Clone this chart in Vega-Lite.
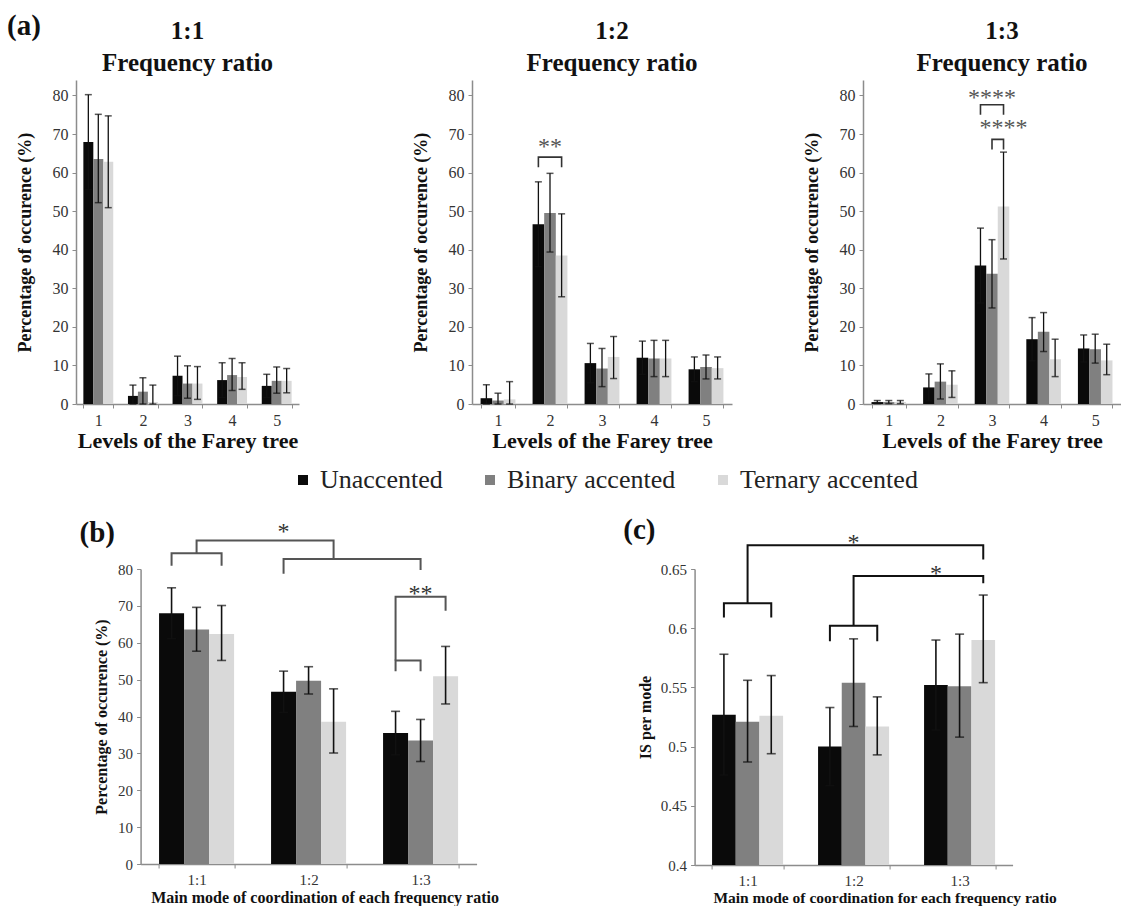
{
  "$schema": "https://vega.github.io/schema/vega-lite/v6.json",
  "background": "white",
  "padding": {"left": 7, "top": 12, "right": 0, "bottom": 0},
  "title": {"text": "(a)", "anchor": "start", "frame": "bounds", "fontSize": 29, "offset": -22, "dx": -9},
  "center": true,
  "spacing": 65,
  "resolve": {"scale": {"xOffset": "independent"}},
  "datasets": {
    "a": [
      {"ratio":"1:1","cat":"1","cond":"Unaccented","mean":67.9,"lo":55.6,"hi":80.2},
      {"ratio":"1:1","cat":"1","cond":"Binary accented","mean":63.5,"lo":52.2,"hi":75.1},
      {"ratio":"1:1","cat":"1","cond":"Ternary accented","mean":62.8,"lo":50.9,"hi":74.7},
      {"ratio":"1:1","cat":"2","cond":"Unaccented","mean":2.1,"lo":0,"hi":4.9},
      {"ratio":"1:1","cat":"2","cond":"Binary accented","mean":3.2,"lo":0,"hi":6.8},
      {"ratio":"1:1","cat":"2","cond":"Ternary accented","mean":0.5,"lo":0,"hi":4.9},
      {"ratio":"1:1","cat":"3","cond":"Unaccented","mean":7.3,"lo":2.2,"hi":12.4},
      {"ratio":"1:1","cat":"3","cond":"Binary accented","mean":5.3,"lo":1.5,"hi":9.9},
      {"ratio":"1:1","cat":"3","cond":"Ternary accented","mean":5.3,"lo":1.2,"hi":9.7},
      {"ratio":"1:1","cat":"4","cond":"Unaccented","mean":6.2,"lo":1.7,"hi":10.7},
      {"ratio":"1:1","cat":"4","cond":"Binary accented","mean":7.5,"lo":3.5,"hi":11.8},
      {"ratio":"1:1","cat":"4","cond":"Ternary accented","mean":7.0,"lo":3.8,"hi":10.7},
      {"ratio":"1:1","cat":"5","cond":"Unaccented","mean":4.7,"lo":1.7,"hi":7.7},
      {"ratio":"1:1","cat":"5","cond":"Binary accented","mean":6.0,"lo":2.8,"hi":9.6},
      {"ratio":"1:1","cat":"5","cond":"Ternary accented","mean":6.0,"lo":2.9,"hi":9.2},
      {"ratio":"1:2","cat":"1","cond":"Unaccented","mean":1.5,"lo":0,"hi":5.0},
      {"ratio":"1:2","cat":"1","cond":"Binary accented","mean":0.9,"lo":0,"hi":2.8},
      {"ratio":"1:2","cat":"1","cond":"Ternary accented","mean":1.2,"lo":0,"hi":5.8},
      {"ratio":"1:2","cat":"2","cond":"Unaccented","mean":46.6,"lo":35.6,"hi":57.6},
      {"ratio":"1:2","cat":"2","cond":"Binary accented","mean":49.5,"lo":39.4,"hi":59.8},
      {"ratio":"1:2","cat":"2","cond":"Ternary accented","mean":38.5,"lo":27.8,"hi":49.3},
      {"ratio":"1:2","cat":"3","cond":"Unaccented","mean":10.6,"lo":5.5,"hi":15.7},
      {"ratio":"1:2","cat":"3","cond":"Binary accented","mean":9.2,"lo":4.5,"hi":14.4},
      {"ratio":"1:2","cat":"3","cond":"Ternary accented","mean":12.2,"lo":6.6,"hi":17.5},
      {"ratio":"1:2","cat":"4","cond":"Unaccented","mean":12.0,"lo":7.7,"hi":16.3},
      {"ratio":"1:2","cat":"4","cond":"Binary accented","mean":11.8,"lo":7.1,"hi":16.5},
      {"ratio":"1:2","cat":"4","cond":"Ternary accented","mean":11.8,"lo":7.1,"hi":16.5},
      {"ratio":"1:2","cat":"5","cond":"Unaccented","mean":9.0,"lo":5.8,"hi":12.2},
      {"ratio":"1:2","cat":"5","cond":"Binary accented","mean":9.6,"lo":6.5,"hi":12.7},
      {"ratio":"1:2","cat":"5","cond":"Ternary accented","mean":9.3,"lo":6.5,"hi":12.2},
      {"ratio":"1:3","cat":"1","cond":"Unaccented","mean":0.5,"lo":0.1,"hi":0.9},
      {"ratio":"1:3","cat":"1","cond":"Binary accented","mean":0.5,"lo":0.1,"hi":0.9},
      {"ratio":"1:3","cat":"1","cond":"Ternary accented","mean":0.5,"lo":0.1,"hi":0.9},
      {"ratio":"1:3","cat":"2","cond":"Unaccented","mean":4.3,"lo":0.8,"hi":7.8},
      {"ratio":"1:3","cat":"2","cond":"Binary accented","mean":5.8,"lo":1.3,"hi":10.4},
      {"ratio":"1:3","cat":"2","cond":"Ternary accented","mean":5.0,"lo":1.7,"hi":8.6},
      {"ratio":"1:3","cat":"3","cond":"Unaccented","mean":35.9,"lo":26.2,"hi":45.6},
      {"ratio":"1:3","cat":"3","cond":"Binary accented","mean":33.8,"lo":24.9,"hi":42.6},
      {"ratio":"1:3","cat":"3","cond":"Ternary accented","mean":51.2,"lo":37.6,"hi":65.3},
      {"ratio":"1:3","cat":"4","cond":"Unaccented","mean":16.8,"lo":11.2,"hi":22.4},
      {"ratio":"1:3","cat":"4","cond":"Binary accented","mean":18.7,"lo":13.6,"hi":23.7},
      {"ratio":"1:3","cat":"4","cond":"Ternary accented","mean":11.6,"lo":7.1,"hi":16.8},
      {"ratio":"1:3","cat":"5","cond":"Unaccented","mean":14.4,"lo":10.9,"hi":17.9},
      {"ratio":"1:3","cat":"5","cond":"Binary accented","mean":14.2,"lo":10.6,"hi":18.1},
      {"ratio":"1:3","cat":"5","cond":"Ternary accented","mean":11.3,"lo":7.6,"hi":15.5}
    ],
    "b": [
      {"cat":"1:1","cond":"Unaccented","mean":68.0,"lo":61.1,"hi":74.9},
      {"cat":"1:1","cond":"Binary accented","mean":63.6,"lo":57.7,"hi":69.6},
      {"cat":"1:1","cond":"Ternary accented","mean":62.4,"lo":55.2,"hi":70.1},
      {"cat":"1:2","cond":"Unaccented","mean":46.7,"lo":41.1,"hi":52.3},
      {"cat":"1:2","cond":"Binary accented","mean":49.7,"lo":46.1,"hi":53.5},
      {"cat":"1:2","cond":"Ternary accented","mean":38.6,"lo":30.1,"hi":47.5},
      {"cat":"1:3","cond":"Unaccented","mean":35.5,"lo":29.6,"hi":41.4},
      {"cat":"1:3","cond":"Binary accented","mean":33.5,"lo":27.8,"hi":39.2},
      {"cat":"1:3","cond":"Ternary accented","mean":50.9,"lo":43.4,"hi":59.0}
    ],
    "c": [
      {"cat":"1:1","cond":"Unaccented","mean":0.527,"lo":0.476,"hi":0.578},
      {"cat":"1:1","cond":"Binary accented","mean":0.521,"lo":0.487,"hi":0.556},
      {"cat":"1:1","cond":"Ternary accented","mean":0.526,"lo":0.494,"hi":0.560},
      {"cat":"1:2","cond":"Unaccented","mean":0.500,"lo":0.467,"hi":0.533},
      {"cat":"1:2","cond":"Binary accented","mean":0.554,"lo":0.517,"hi":0.591},
      {"cat":"1:2","cond":"Ternary accented","mean":0.517,"lo":0.493,"hi":0.542},
      {"cat":"1:3","cond":"Unaccented","mean":0.552,"lo":0.514,"hi":0.590},
      {"cat":"1:3","cond":"Binary accented","mean":0.551,"lo":0.508,"hi":0.595},
      {"cat":"1:3","cond":"Ternary accented","mean":0.590,"lo":0.554,"hi":0.628}
    ],
    "brk": [
      {"panel":"1:2","id":"s1","ord":1,"cat":"2","cond":"Unaccented","y":61.4},
      {"panel":"1:2","id":"s1","ord":2,"cat":"2","cond":"Unaccented","y":64.0},
      {"panel":"1:2","id":"s1","ord":3,"cat":"2","cond":"Ternary accented","y":64.0},
      {"panel":"1:2","id":"s1","ord":4,"cat":"2","cond":"Ternary accented","y":61.4},
      {"panel":"1:3","id":"t1","ord":1,"cat":"3","cond":"Unaccented","y":75.0},
      {"panel":"1:3","id":"t1","ord":2,"cat":"3","cond":"Unaccented","y":77.6},
      {"panel":"1:3","id":"t1","ord":3,"cat":"3","cond":"Ternary accented","y":77.6},
      {"panel":"1:3","id":"t1","ord":4,"cat":"3","cond":"Ternary accented","y":75.0},
      {"panel":"1:3","id":"t2","ord":1,"cat":"3","cond":"Binary accented","y":66.0},
      {"panel":"1:3","id":"t2","ord":2,"cat":"3","cond":"Binary accented","y":68.6},
      {"panel":"1:3","id":"t2","ord":3,"cat":"3","cond":"Ternary accented","y":68.6},
      {"panel":"1:3","id":"t2","ord":4,"cat":"3","cond":"Ternary accented","y":66.0},
      {"panel":"b","id":"b1","ord":1,"cat":"1:1","cond":"Unaccented","y":80.9},
      {"panel":"b","id":"b1","ord":2,"cat":"1:1","cond":"Unaccented","y":84.3},
      {"panel":"b","id":"b1","ord":3,"cat":"1:1","cond":"Ternary accented","y":84.3},
      {"panel":"b","id":"b1","ord":4,"cat":"1:1","cond":"Ternary accented","y":80.9},
      {"panel":"b","id":"b2","ord":1,"cat":"1:2","cond":"Unaccented","y":78.7},
      {"panel":"b","id":"b2","ord":2,"cat":"1:2","cond":"Unaccented","y":82.7},
      {"panel":"b","id":"b2","ord":3,"cat":"1:3","cond":"Binary accented","y":82.7},
      {"panel":"b","id":"b2","ord":4,"cat":"1:3","cond":"Binary accented","y":79.7},
      {"panel":"b","id":"b3","ord":1,"cat":"1:1","cond":"Binary accented","y":84.3},
      {"panel":"b","id":"b3","ord":2,"cat":"1:1","cond":"Binary accented","y":87.7},
      {"panel":"b","id":"b3","ord":3,"cat":"1:2","cond":"Ternary accented","y":87.7},
      {"panel":"b","id":"b3","ord":4,"cat":"1:2","cond":"Ternary accented","y":82.7},
      {"panel":"b","id":"b4","ord":1,"cat":"1:3","cond":"Unaccented","y":52.3},
      {"panel":"b","id":"b4","ord":2,"cat":"1:3","cond":"Unaccented","y":55.2},
      {"panel":"b","id":"b4","ord":3,"cat":"1:3","cond":"Binary accented","y":55.2},
      {"panel":"b","id":"b4","ord":4,"cat":"1:3","cond":"Binary accented","y":52.3},
      {"panel":"b","id":"b5","ord":1,"cat":"1:3","cond":"Unaccented","y":55.2},
      {"panel":"b","id":"b5","ord":2,"cat":"1:3","cond":"Unaccented","y":72.5},
      {"panel":"b","id":"b5","ord":3,"cat":"1:3","cond":"Ternary accented","y":72.5},
      {"panel":"b","id":"b5","ord":4,"cat":"1:3","cond":"Ternary accented","y":68.7},
      {"panel":"c","id":"c1","ord":1,"cat":"1:1","cond":"Unaccented","y":0.609},
      {"panel":"c","id":"c1","ord":2,"cat":"1:1","cond":"Unaccented","y":0.621},
      {"panel":"c","id":"c1","ord":3,"cat":"1:1","cond":"Ternary accented","y":0.621},
      {"panel":"c","id":"c1","ord":4,"cat":"1:1","cond":"Ternary accented","y":0.609},
      {"panel":"c","id":"c2","ord":1,"cat":"1:2","cond":"Unaccented","y":0.589},
      {"panel":"c","id":"c2","ord":2,"cat":"1:2","cond":"Unaccented","y":0.602},
      {"panel":"c","id":"c2","ord":3,"cat":"1:2","cond":"Ternary accented","y":0.602},
      {"panel":"c","id":"c2","ord":4,"cat":"1:2","cond":"Ternary accented","y":0.589},
      {"panel":"c","id":"c3","ord":1,"cat":"1:1","cond":"Binary accented","y":0.621},
      {"panel":"c","id":"c3","ord":2,"cat":"1:1","cond":"Binary accented","y":0.670},
      {"panel":"c","id":"c3","ord":3,"cat":"1:3","cond":"Ternary accented","y":0.670},
      {"panel":"c","id":"c3","ord":4,"cat":"1:3","cond":"Ternary accented","y":0.658},
      {"panel":"c","id":"c4","ord":1,"cat":"1:2","cond":"Binary accented","y":0.602},
      {"panel":"c","id":"c4","ord":2,"cat":"1:2","cond":"Binary accented","y":0.644},
      {"panel":"c","id":"c4","ord":3,"cat":"1:3","cond":"Ternary accented","y":0.644},
      {"panel":"c","id":"c4","ord":4,"cat":"1:3","cond":"Ternary accented","y":0.638}
    ],
    "stars": [
      {"panel":"1:2","cat":"2","cond":"Binary accented","y":67.0,"label":"**"},
      {"panel":"1:3","cat":"3","cond":"Binary accented","y":79.7,"label":"****"},
      {"panel":"1:3","cat":"3","cond":"Ternary accented","y":71.8,"label":"****"},
      {"panel":"b","cat":"1:2","cond":"Unaccented","y":91.3,"label":"*"},
      {"panel":"b","cat":"1:3","cond":"Binary accented","y":74.6,"label":"**"},
      {"panel":"c","cat":"1:2","cond":"Binary accented","y":0.676,"label":"*"},
      {"panel":"c","cat":"1:3","cond":"Unaccented","y":0.650,"label":"*"}
    ]
  },
  "vconcat": [
    {
      "resolve": {"scale": {"xOffset": "independent"}},
      "hconcat": [
        {
          "resolve": {"scale": {"xOffset": "independent"}},
          "hconcat": [
            {
              "width": 223, "height": 324,
              "title": {"text": ["1:1", "Frequency ratio"], "fontSize": 25, "lineHeight": 32, "offset": 4},
              "encoding": {
                "x": {"field": "cat", "type": "ordinal", "scale": {"domain": ["1","2","3","4","5"], "paddingInner": 0.33, "paddingOuter": 0.165}, "axis": {"title": "Levels of the Farey tree", "titleFontSize": 22, "labelFontSize": 16, "titlePadding": 2}},
                "xOffset": {"field": "cond", "type": "nominal", "scale": {"domain": ["Unaccented","Binary accented","Ternary accented"]}}
              },
              "layer": [
                {"data": {"name": "a"}, "transform": [{"filter": "datum.ratio == '1:1'"}], "mark": {"type": "bar"},
                 "encoding": {"y": {"field": "mean", "type": "quantitative", "title": "Percentage of occurence (%)", "scale": {"domain": [0, 84], "nice": false}, "axis": {"values": [0,10,20,30,40,50,60,70,80], "titleFontSize": 18, "labelFontSize": 16, "titlePadding": 18}},
                   "color": {"field": "cond", "type": "nominal", "scale": {"domain": ["Unaccented","Binary accented","Ternary accented"], "range": ["#0a0a0a","#808080","#d9d9d9"]}, "legend": {"orient": "none", "legendX": 214, "legendY": 387, "direction": "horizontal", "title": null, "symbolType": "square", "symbolSize": 100, "symbolStrokeWidth": 0, "labelFont": "Liberation Serif", "labelFontSize": 26, "labelLimit": 400, "labelColor": "#222", "columnPadding": 34, "labelOffset": 4}}}},
                {"data": {"name": "a"}, "transform": [{"filter": "datum.ratio == '1:1'"}], "mark": {"type": "rule", "color": "#111", "strokeWidth": 1.3},
                 "encoding": {"y": {"field": "lo", "type": "quantitative", "title": "Percentage of occurence (%)"}, "y2": {"field": "hi"}}},
                {"data": {"name": "a"}, "transform": [{"filter": "datum.ratio == '1:1'"}], "mark": {"type": "tick", "orient": "horizontal", "color": "#111", "size": 7, "thickness": 1.5},
                 "encoding": {"y": {"field": "hi", "type": "quantitative", "title": "Percentage of occurence (%)"}}},
                {"data": {"name": "a"}, "transform": [{"filter": "datum.ratio == '1:1'"}], "mark": {"type": "tick", "orient": "horizontal", "color": "#111", "size": 7, "thickness": 1.5},
                 "encoding": {"y": {"field": "lo", "type": "quantitative", "title": "Percentage of occurence (%)"}}}
              ]
            },
            {
              "width": 260, "height": 324,
              "title": {"text": ["1:2", "Frequency ratio"], "fontSize": 25, "lineHeight": 32, "offset": 4, "dx": 10},
              "encoding": {
                "x": {"field": "cat", "type": "ordinal", "scale": {"domain": ["1","2","3","4","5"], "paddingInner": 0.33, "paddingOuter": 0.165}, "axis": {"title": "Levels of the Farey tree", "titleFontSize": 22, "labelFontSize": 16, "titlePadding": 2}},
                "xOffset": {"field": "cond", "type": "nominal", "scale": {"domain": ["Unaccented","Binary accented","Ternary accented"]}}
              },
              "layer": [
                {"data": {"name": "a"}, "transform": [{"filter": "datum.ratio == '1:2'"}], "mark": {"type": "bar"},
                 "encoding": {"y": {"field": "mean", "type": "quantitative", "title": "Percentage of occurence (%)", "scale": {"domain": [0, 84], "nice": false}, "axis": {"values": [0,10,20,30,40,50,60,70,80], "titleFontSize": 18, "labelFontSize": 16, "titlePadding": 18}},
                   "color": {"field": "cond", "type": "nominal", "scale": {"domain": ["Unaccented","Binary accented","Ternary accented"], "range": ["#0a0a0a","#808080","#d9d9d9"]}, "legend": {"orient": "none", "legendX": 214, "legendY": 387, "direction": "horizontal", "title": null, "symbolType": "square", "symbolSize": 100, "symbolStrokeWidth": 0, "labelFont": "Liberation Serif", "labelFontSize": 26, "labelLimit": 400, "labelColor": "#222", "columnPadding": 34, "labelOffset": 4}}}},
                {"data": {"name": "a"}, "transform": [{"filter": "datum.ratio == '1:2'"}], "mark": {"type": "rule", "color": "#111", "strokeWidth": 1.3},
                 "encoding": {"y": {"field": "lo", "type": "quantitative", "title": "Percentage of occurence (%)"}, "y2": {"field": "hi"}}},
                {"data": {"name": "a"}, "transform": [{"filter": "datum.ratio == '1:2'"}], "mark": {"type": "tick", "orient": "horizontal", "color": "#111", "size": 7, "thickness": 1.5},
                 "encoding": {"y": {"field": "hi", "type": "quantitative", "title": "Percentage of occurence (%)"}}},
                {"data": {"name": "a"}, "transform": [{"filter": "datum.ratio == '1:2'"}], "mark": {"type": "tick", "orient": "horizontal", "color": "#111", "size": 7, "thickness": 1.5},
                 "encoding": {"y": {"field": "lo", "type": "quantitative", "title": "Percentage of occurence (%)"}}},
                {"data": {"name": "brk"}, "transform": [{"filter": "datum.panel == '1:2'"}], "mark": {"type": "line", "color": "#333", "strokeWidth": 1.6},
                 "encoding": {"y": {"field": "y", "type": "quantitative", "title": "Percentage of occurence (%)"}, "detail": {"field": "id"}, "order": {"field": "ord"}}},
                {"data": {"name": "stars"}, "transform": [{"filter": "datum.panel == '1:2'"}], "mark": {"type": "text", "font": "Liberation Serif", "fontSize": 24, "color": "#555", "baseline": "middle", "dy": 1},
                 "encoding": {"y": {"field": "y", "type": "quantitative", "title": "Percentage of occurence (%)"}, "text": {"field": "label"}}}
              ]
            }
          ],
          "spacing": 113
        },
        {
          "width": 258, "height": 324,
          "title": {"text": ["1:3", "Frequency ratio"], "fontSize": 25, "lineHeight": 32, "offset": 4, "dx": 10},
          "encoding": {
            "x": {"field": "cat", "type": "ordinal", "scale": {"domain": ["1","2","3","4","5"], "paddingInner": 0.33, "paddingOuter": 0.165}, "axis": {"title": "Levels of the Farey tree", "titleFontSize": 22, "labelFontSize": 16, "titlePadding": 2}},
            "xOffset": {"field": "cond", "type": "nominal", "scale": {"domain": ["Unaccented","Binary accented","Ternary accented"]}}
          },
          "layer": [
            {"data": {"name": "a"}, "transform": [{"filter": "datum.ratio == '1:3'"}], "mark": {"type": "bar"},
             "encoding": {"y": {"field": "mean", "type": "quantitative", "title": "Percentage of occurence (%)", "scale": {"domain": [0, 84], "nice": false}, "axis": {"values": [0,10,20,30,40,50,60,70,80], "titleFontSize": 18, "labelFontSize": 16, "titlePadding": 18}},
               "color": {"field": "cond", "type": "nominal", "scale": {"domain": ["Unaccented","Binary accented","Ternary accented"], "range": ["#0a0a0a","#808080","#d9d9d9"]}, "legend": {"orient": "none", "legendX": 214, "legendY": 387, "direction": "horizontal", "title": null, "symbolType": "square", "symbolSize": 100, "symbolStrokeWidth": 0, "labelFont": "Liberation Serif", "labelFontSize": 26, "labelLimit": 400, "labelColor": "#222", "columnPadding": 34, "labelOffset": 4}}}},
            {"data": {"name": "a"}, "transform": [{"filter": "datum.ratio == '1:3'"}], "mark": {"type": "rule", "color": "#111", "strokeWidth": 1.3},
             "encoding": {"y": {"field": "lo", "type": "quantitative", "title": "Percentage of occurence (%)"}, "y2": {"field": "hi"}}},
            {"data": {"name": "a"}, "transform": [{"filter": "datum.ratio == '1:3'"}], "mark": {"type": "tick", "orient": "horizontal", "color": "#111", "size": 7, "thickness": 1.5},
             "encoding": {"y": {"field": "hi", "type": "quantitative", "title": "Percentage of occurence (%)"}}},
            {"data": {"name": "a"}, "transform": [{"filter": "datum.ratio == '1:3'"}], "mark": {"type": "tick", "orient": "horizontal", "color": "#111", "size": 7, "thickness": 1.5},
             "encoding": {"y": {"field": "lo", "type": "quantitative", "title": "Percentage of occurence (%)"}}},
            {"data": {"name": "brk"}, "transform": [{"filter": "datum.panel == '1:3'"}], "mark": {"type": "line", "color": "#333", "strokeWidth": 1.6},
             "encoding": {"y": {"field": "y", "type": "quantitative", "title": "Percentage of occurence (%)"}, "detail": {"field": "id"}, "order": {"field": "ord"}}},
            {"data": {"name": "stars"}, "transform": [{"filter": "datum.panel == '1:3'"}], "mark": {"type": "text", "font": "Liberation Serif", "fontSize": 24, "color": "#555", "baseline": "middle", "dy": 1},
             "encoding": {"y": {"field": "y", "type": "quantitative", "title": "Percentage of occurence (%)"}, "text": {"field": "label"}}}
          ]
        }
      ],
      "spacing": 71
    },
    {
      "resolve": {"scale": {"xOffset": "independent"}},
      "hconcat": [
        {
          "width": 336, "height": 295,
          "title": {"text": "(b)", "anchor": "start", "frame": "bounds", "fontSize": 29, "offset": -28, "dx": -14},
          "encoding": {
            "x": {"field": "cat", "type": "ordinal", "scale": {"domain": ["1:1","1:2","1:3"], "paddingInner": 0.33, "paddingOuter": 0.165}, "axis": {"title": "Main mode of coordination of each frequency ratio", "titleFontSize": 16, "labelFontSize": 15, "titlePadding": 2, "titleX": 184}},
            "xOffset": {"field": "cond", "type": "nominal", "scale": {"domain": ["Unaccented","Binary accented","Ternary accented"]}}
          },
          "layer": [
            {"data": {"name": "b"}, "mark": {"type": "bar"},
             "encoding": {"y": {"field": "mean", "type": "quantitative", "title": "Percentage of occurence (%)", "scale": {"domain": [0, 80], "nice": false}, "axis": {"values": [0,10,20,30,40,50,60,70,80], "tickCount": 9, "labelOverlap": false, "titleFontSize": 16, "labelFontSize": 15, "titlePadding": 8}},
               "color": {"field": "cond", "type": "nominal", "scale": {"domain": ["Unaccented","Binary accented","Ternary accented"], "range": ["#0a0a0a","#808080","#d9d9d9"]}, "legend": {"orient": "none", "legendX": 214, "legendY": 387, "direction": "horizontal", "title": null, "symbolType": "square", "symbolSize": 100, "symbolStrokeWidth": 0, "labelFont": "Liberation Serif", "labelFontSize": 26, "labelLimit": 400, "labelColor": "#222", "columnPadding": 34, "labelOffset": 4}}}},
            {"data": {"name": "b"}, "mark": {"type": "rule", "color": "#111", "strokeWidth": 1.6},
             "encoding": {"y": {"field": "lo", "type": "quantitative", "title": "Percentage of occurence (%)", "axis": {"values": [0,10,20,30,40,50,60,70,80], "tickCount": 9, "labelOverlap": false}}, "y2": {"field": "hi"}}},
            {"data": {"name": "b"}, "mark": {"type": "tick", "orient": "horizontal", "color": "#111", "size": 9, "thickness": 1.6},
             "encoding": {"y": {"field": "hi", "type": "quantitative", "title": "Percentage of occurence (%)", "axis": {"values": [0,10,20,30,40,50,60,70,80], "tickCount": 9, "labelOverlap": false}}}},
            {"data": {"name": "b"}, "mark": {"type": "tick", "orient": "horizontal", "color": "#111", "size": 9, "thickness": 1.6},
             "encoding": {"y": {"field": "lo", "type": "quantitative", "title": "Percentage of occurence (%)", "axis": {"values": [0,10,20,30,40,50,60,70,80], "tickCount": 9, "labelOverlap": false}}}},
            {"data": {"name": "brk"}, "transform": [{"filter": "datum.panel == 'b'"}], "mark": {"type": "line", "color": "#555", "strokeWidth": 2},
             "encoding": {"y": {"field": "y", "type": "quantitative", "title": "Percentage of occurence (%)", "axis": {"values": [0,10,20,30,40,50,60,70,80], "tickCount": 9, "labelOverlap": false}}, "detail": {"field": "id"}, "order": {"field": "ord"}}},
            {"data": {"name": "stars"}, "transform": [{"filter": "datum.panel == 'b'"}], "mark": {"type": "text", "font": "Liberation Serif", "fontSize": 24, "color": "#333", "baseline": "middle", "dy": 5},
             "encoding": {"y": {"field": "y", "type": "quantitative", "title": "Percentage of occurence (%)", "axis": {"values": [0,10,20,30,40,50,60,70,80], "tickCount": 9, "labelOverlap": false}}, "text": {"field": "label"}}}
          ]
        },
        {
          "width": 318, "height": 296,
          "title": {"text": "(c)", "anchor": "start", "frame": "bounds", "fontSize": 29, "offset": -14, "dx": -14},
          "encoding": {
            "x": {"field": "cat", "type": "ordinal", "scale": {"domain": ["1:1","1:2","1:3"], "paddingInner": 0.33, "paddingOuter": 0.165}, "axis": {"title": "Main mode of coordination for each frequency ratio", "titleFontSize": 15.5, "labelFontSize": 15, "titlePadding": 2, "titleX": 190}},
            "xOffset": {"field": "cond", "type": "nominal", "scale": {"domain": ["Unaccented","Binary accented","Ternary accented"]}}
          },
          "layer": [
            {"data": {"name": "c"}, "mark": {"type": "bar"},
             "encoding": {"y": {"field": "mean", "type": "quantitative", "title": "IS per mode", "scale": {"domain": [0.4, 0.65], "nice": false, "zero": false}, "axis": {"values": [0.4,0.45,0.5,0.55,0.6,0.65], "format": "~g", "titleFontSize": 16, "labelFontSize": 15, "titlePadding": 7}},
               "y2": {"datum": 0.4},
               "color": {"field": "cond", "type": "nominal", "scale": {"domain": ["Unaccented","Binary accented","Ternary accented"], "range": ["#0a0a0a","#808080","#d9d9d9"]}, "legend": {"orient": "none", "legendX": 214, "legendY": 387, "direction": "horizontal", "title": null, "symbolType": "square", "symbolSize": 100, "symbolStrokeWidth": 0, "labelFont": "Liberation Serif", "labelFontSize": 26, "labelLimit": 400, "labelColor": "#222", "columnPadding": 34, "labelOffset": 4}}}},
            {"data": {"name": "c"}, "mark": {"type": "rule", "color": "#111", "strokeWidth": 1.6},
             "encoding": {"y": {"field": "lo", "type": "quantitative", "title": "IS per mode"}, "y2": {"field": "hi"}}},
            {"data": {"name": "c"}, "mark": {"type": "tick", "orient": "horizontal", "color": "#111", "size": 9, "thickness": 1.6},
             "encoding": {"y": {"field": "hi", "type": "quantitative", "title": "IS per mode"}}},
            {"data": {"name": "c"}, "mark": {"type": "tick", "orient": "horizontal", "color": "#111", "size": 9, "thickness": 1.6},
             "encoding": {"y": {"field": "lo", "type": "quantitative", "title": "IS per mode"}}},
            {"data": {"name": "brk"}, "transform": [{"filter": "datum.panel == 'c'"}], "mark": {"type": "line", "color": "#111", "strokeWidth": 2},
             "encoding": {"y": {"field": "y", "type": "quantitative", "title": "IS per mode"}, "detail": {"field": "id"}, "order": {"field": "ord"}}},
            {"data": {"name": "stars"}, "transform": [{"filter": "datum.panel == 'c'"}], "mark": {"type": "text", "font": "Liberation Serif", "fontSize": 24, "color": "#333", "baseline": "middle", "dy": 5},
             "encoding": {"y": {"field": "y", "type": "quantitative", "title": "IS per mode"}, "text": {"field": "label"}}}
          ]
        }
      ],
      "spacing": 124
    }
  ],
  "config": {
    "view": {"stroke": null},
    "title": {"font": "Liberation Serif", "fontWeight": "bold", "color": "#111"},
    "axis": {"grid": false, "domainColor": "#8c8c8c", "domainWidth": 1.5, "tickColor": "#8c8c8c", "tickSize": 4, "labelFont": "Liberation Serif", "labelColor": "#333", "titleFont": "Liberation Serif", "titleFontWeight": "bold", "titleColor": "#111", "labelPadding": 4, "labelOverlap": false},
    "axisX": {"tickBand": "extent", "labelAngle": 0},
    "bar": {"opacity": 1}
  }
}
